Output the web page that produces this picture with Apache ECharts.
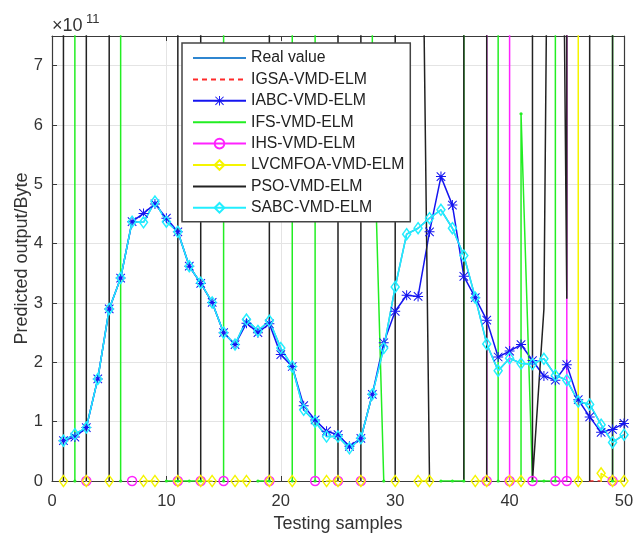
<!DOCTYPE html>
<html>
<head>
<meta charset="utf-8">
<script src="https://cdn.jsdelivr.net/npm/echarts@6/dist/echarts.min.js"></script>
<style>
  html, body { margin: 0; padding: 0; background: #fff; }
  #chart { width: 636px; height: 533px; }
</style>
</head>
<body>
<div id="chart"></div>
<script>
// Values are in units of 1e11 bytes. H marks predictions far outside the plotted range.
const H = 1e4;

const samples = [1,2,3,4,5,6,7,8,9,10,11,12,13,14,15,16,17,18,19,20,21,22,23,24,25,
                 26,27,28,29,30,31,32,33,34,35,36,37,38,39,40,41,42,43,44,45,46,47,48,49,50];

const sabc = [0.68,0.79,0.90,1.72,2.90,3.42,4.37,4.36,4.71,4.37,
              4.20,3.62,3.34,3.01,2.50,2.30,2.72,2.53,2.70,2.24,
              1.93,1.20,1.00,0.75,0.75,0.55,0.72,1.46,2.24,3.27,
              4.16,4.26,4.43,4.57,4.26,3.80,3.09,2.31,1.86,2.07,
              1.98,1.97,2.06,1.78,1.70,1.34,1.29,0.95,0.65,0.78];

const realValue = [0.68,0.79,0.90,1.72,2.90,3.42,4.37,4.36,4.71,4.37,
                   4.20,3.62,3.34,3.01,2.50,2.30,2.72,2.53,2.70,2.24,
                   1.93,1.20,1.00,0.75,0.75,0.55,0.72,1.46,2.24,3.27,
                   4.16,4.26,4.43,4.57,4.26,3.80,3.09,2.31,1.86,2.07,
                   1.98,1.97,2.06,1.78,1.70,1.34,1.29,0.95,0.65,0.78];

const iabc = [0.68,0.74,0.90,1.72,2.90,3.42,4.37,4.51,4.67,4.43,
              4.20,3.62,3.33,3.01,2.50,2.30,2.66,2.50,2.65,2.13,
              1.93,1.27,1.03,0.84,0.78,0.585,0.72,1.46,2.33,2.86,
              3.13,3.11,4.20,5.13,4.65,3.45,3.09,2.71,2.09,2.19,
              2.30,2.03,1.77,1.70,1.96,1.37,1.08,0.82,0.87,0.97];

const igsa = [-H,-H,-H,-H,-H,-H,-H,-H,-H,-H,
              -H,-H,-H,-H,-H,-H,-H,-H,-H,-H,
              -H,-H,-H,-H,-H,-H,-H,-H,-H,-H,
              -H,-H,-H,-H,-H,-H,-H,-H,-H,-H,
              -H,-H,-H,-H,-H,-H,0,0,-H,-H];

const ifs = [H,0,-H,-H,-H,0,H,null,null,0,
             0,0,0,-H,0,H,null,0,0,-H,
             0,H,0,-H,-H,null,H,6.9,0,-H,
             -H,-H,-H,0,0,0,H,H,0,-H,
             6.19,0,0,0,H,H,H,H,0,-H];

const ihs = [-H,-H,0,-H,-H,-H,0,-H,-H,-H,
             0,-H,0,-H,0,-H,-H,-H,0,-H,
             -H,-H,0,-H,0,-H,0,-H,-H,-H,
             -H,-H,-H,-H,-H,-H,-H,0,H,0,
             -H,0,-H,0,0,H,H,null,0,-H];

const lvcmfoa = [0,-H,0,-H,0,-H,-H,0,0,-H,
                 0,-H,0,0,-H,0,0,-H,0,-H,
                 0,-H,-H,0,0,-H,0,-H,-H,0,
                 -H,0,0,-H,-H,-H,0,0,-H,0,
                 0,-H,null,H,H,0,-H,0.13,0,0];

const pso = [0,H,0,H,0,H,H,H,H,H,
             0,H,0,H,H,H,H,H,0,H,
             H,H,H,H,0,H,0,H,H,0,
             H,16,0,-H,-H,0,H,0,H,H,
             H,0,2.9,25,3.07,H,0,H,0,H];

const seriesNames = ['Real value','IGSA-VMD-ELM','IABC-VMD-ELM','IFS-VMD-ELM',
                     'IHS-VMD-ELM','LVCMFOA-VMD-ELM','PSO-VMD-ELM','SABC-VMD-ELM'];

// eight-armed asterisk marker
const asterisk = 'path://M0 9H20V11H0Z M9 0H11V20H9Z ' +
  'M2.21 0.79L19.21 17.79L17.79 19.21L0.79 2.21Z ' +
  'M19.21 2.21L2.21 19.21L0.79 17.79L17.79 0.79Z';
// small point marker centred in a larger box
const point = 'path://M0 0L0 0 M20 20L20 20 M8.4 10A1.6 1.6 0 1 1 11.6 10A1.6 1.6 0 1 1 8.4 10Z';

const pairs = arr => arr.map((v, i) => [samples[i], v]);
const hollow = 'rgba(255,255,255,0)';

function lineSeries(name, values, color, extra) {
  return Object.assign({
    name: name,
    type: 'line',
    data: pairs(values),
    clip: true,
    showAllSymbol: true,
    symbol: 'none',
    lineStyle: { color: color, width: 1.5 },
    itemStyle: { color: hollow },
    emphasis: { disabled: true }
  }, extra || {});
}

const series = [
  lineSeries(seriesNames[0], realValue, '#2f86d0'),
  lineSeries(seriesNames[1], igsa, '#ff2a2a', { lineStyle: { color: '#ff2a2a', width: 1.5, type: [5, 4] } }),
  lineSeries(seriesNames[2], iabc, '#1515f0', { symbol: asterisk, symbolSize: 10,
    itemStyle: { color: '#1515f0' } }),
  lineSeries(seriesNames[3], ifs, '#22ee22', { symbol: point, symbolSize: 20,
    itemStyle: { color: '#22ee22' } }),
  lineSeries(seriesNames[4], ihs, '#ff22ff', { symbol: 'circle', symbolSize: 9,
    itemStyle: { color: hollow, borderColor: '#ff22ff', borderWidth: 1.5 } }),
  lineSeries(seriesNames[5], lvcmfoa, '#f5f500', { symbol: 'diamond', symbolSize: [8, 11],
    itemStyle: { color: hollow, borderColor: '#f5f500', borderWidth: 1.5 } }),
  lineSeries(seriesNames[6], pso, '#222222'),
  lineSeries(seriesNames[7], sabc, '#22eeff', { symbol: 'diamond', symbolSize: [8, 11],
    itemStyle: { color: hollow, borderColor: '#22eeff', borderWidth: 1.5 } })
];

const axisColor = '#3a3a3a';
const font = 'Liberation Sans, Arial, sans-serif';

const chart = echarts.init(document.getElementById('chart'), null, { renderer: 'canvas' });
chart.setOption({
  animation: false,
  backgroundColor: '#ffffff',
  grid: { left: 52, right: 12, top: 36, bottom: 52, containLabel: false, outerBoundsMode: 'none' },
  xAxis: [
    {
      type: 'value', min: 0, max: 50, interval: 10, position: 'bottom',
      name: 'Testing samples', nameLocation: 'middle', nameGap: 34, nameMoveOverlap: false,
      nameTextStyle: { fontSize: 18, color: '#333', fontFamily: font },
      axisLine: { show: true, lineStyle: { color: axisColor, width: 1.2 } },
      axisTick: { show: true, inside: true, length: 5, lineStyle: { color: axisColor } },
      axisLabel: { fontSize: 16.5, color: '#333', margin: 12, fontFamily: font },
      splitLine: { show: true, lineStyle: { color: '#e4e4e4', width: 1 } }
    },
    {
      type: 'value', min: 0, max: 50, interval: 10, position: 'top',
      axisLine: { show: true, onZero: false, lineStyle: { color: axisColor, width: 1.2 } },
      axisTick: { show: true, inside: true, length: 5, lineStyle: { color: axisColor } },
      axisLabel: { show: false },
      splitLine: { show: false }
    }
  ],
  yAxis: [
    {
      type: 'value', min: 0, max: 7.5, interval: 1, position: 'left',
      name: 'Predicted output/Byte', nameLocation: 'middle', nameGap: 21, nameMoveOverlap: false,
      nameTextStyle: { fontSize: 18, color: '#333', fontFamily: font },
      axisLine: { show: true, onZero: false, lineStyle: { color: axisColor, width: 1.2 } },
      axisTick: { show: true, inside: true, length: 5, lineStyle: { color: axisColor } },
      axisLabel: { fontSize: 16.5, color: '#333', margin: 9, fontFamily: font,
        formatter: v => (Number.isInteger(v) ? String(v) : '') },
      splitLine: { show: true, lineStyle: { color: '#e4e4e4', width: 1 } }
    },
    {
      type: 'value', min: 0, max: 7.5, interval: 1, position: 'right',
      axisLine: { show: true, onZero: false, lineStyle: { color: axisColor, width: 1.2 } },
      axisTick: { show: true, inside: true, length: 5, lineStyle: { color: axisColor } },
      axisLabel: { show: false },
      splitLine: { show: false }
    }
  ],
  legend: {
    data: seriesNames,
    orient: 'vertical',
    left: 182, top: 43,
    padding: [7, 6, 6, 10],
    itemWidth: 53, itemHeight: 12, itemGap: 5.4,
    backgroundColor: '#ffffff',
    borderColor: '#444444', borderWidth: 1.5,
    selectedMode: false,
    textStyle: { fontSize: 15.8, color: '#222', fontFamily: font, lineHeight: 16 }
  },
  graphic: [
    { type: 'text', left: 52, top: 17, silent: true,
      style: { text: '×10', font: '18px ' + font, fill: '#333' } },
    { type: 'text', left: 86, top: 13, silent: true,
      style: { text: '11', font: '13px ' + font, fill: '#333' } }
  ],
  series: series
});
</script>
</body>
</html>
